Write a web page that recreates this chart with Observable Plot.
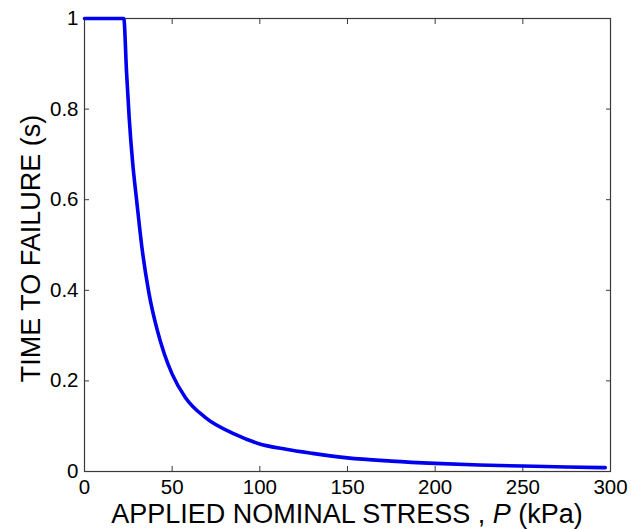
<!DOCTYPE html>
<html><head><meta charset="utf-8">
<script src="https://cdn.jsdelivr.net/npm/d3@7"></script>
<script src="https://cdn.jsdelivr.net/npm/@observablehq/plot@0.6"></script>
<style>html,body{margin:0;padding:0;background:#fff} svg{display:block}</style>
</head><body><div id="chart"></div>
<script>
// Values
const stress = [0, 22.4, 24, 25.5, 27.5, 29.7, 32.9, 36.7, 41.5, 45.5, 50, 57.6, 69, 86, 99, 115, 130, 150, 175, 200, 225, 250, 275, 297];
const timeToFailure = [1, 1, 0.88, 0.78, 0.68, 0.60, 0.49, 0.395, 0.312, 0.26, 0.215, 0.163, 0.119, 0.082, 0.062, 0.049, 0.040, 0.030, 0.023, 0.018, 0.0145, 0.012, 0.010, 0.0085];
const xTicks = [0, 50, 100, 150, 200, 250, 300];
const yTicks = [0, 0.2, 0.4, 0.6, 0.8, 1];
const yTickLabels = ["0", "0.2", "0.4", "0.6", "0.8", "1"];
const xTitleParts = ["APPLIED NOMINAL STRESS , ", "P", " (kPa)"];
const yTitle = "TIME TO FAILURE (s)";

const data = stress.map((p, i) => ({p, t: timeToFailure[i]}));
const axisColor = "#3a3a3a";
const font = "Arial, 'Liberation Sans', sans-serif";

const plot = Plot.plot({
  width: 631,
  height: 529,
  marginLeft: 84,
  marginRight: 21,
  marginTop: 18,
  marginBottom: 58,
  style: {fontFamily: font, fontSize: "20.5px", background: "#fff", color: "#000"},
  x: {domain: [0, 300]},
  y: {domain: [0, 1]},
  marks: [
    Plot.frame({stroke: axisColor, strokeWidth: 1.2}),
    // inward ticks on all four sides
    Plot.axisX({anchor: "bottom", ticks: xTicks, tickSize: 5, dy: -5, fill: "none", stroke: axisColor, label: null}),
    Plot.axisX({anchor: "top", ticks: xTicks, tickSize: 5, dy: 5, fill: "none", stroke: axisColor, label: null}),
    Plot.axisY({anchor: "left", ticks: yTicks, tickSize: 5, dx: 5, fill: "none", stroke: axisColor, label: null}),
    Plot.axisY({anchor: "right", ticks: yTicks, tickSize: 5, dx: -5, fill: "none", stroke: axisColor, label: null}),
    // tick labels
    Plot.axisX({anchor: "bottom", ticks: xTicks, tickSize: 0, tickPadding: 8, tickFormat: d => String(d), fill: "#000", fontSize: 20.5, label: null}),
    Plot.axisY({anchor: "left", ticks: yTicks, tickSize: 0, tickPadding: 6, tickFormat: d => yTickLabels[yTicks.indexOf(d)], fill: "#000", fontSize: 20.5, label: null}),
    Plot.line(data, {x: "p", y: "t", stroke: "#0000ee", strokeWidth: 3.6, curve: "monotone-x"})
  ]
});

document.getElementById("chart").appendChild(plot);

const svg = d3.select(plot);
svg.selectAll("text").attr("font-size", 20.5).style("font-size", "20.5px").style("font-family", font);

const xs = plot.scale("x"), ys = plot.scale("y");
const xt = svg.append("text")
  .attr("x", xs.apply(150)).attr("y", 523)
  .attr("text-anchor", "middle")
  .style("font-family", font).style("font-size", "27px").attr("fill", "#000");
xTitleParts.forEach((s, i) => {
  const ts = xt.append("tspan").text(s);
  if (i === 1) ts.style("font-style", "italic");
});
svg.append("text")
  .attr("transform", `translate(40,${ys.apply(0.5) + 4}) rotate(-90)`)
  .attr("text-anchor", "middle")
  .style("font-family", font).style("font-size", "27px").attr("fill", "#000")
  .text(yTitle);
</script>
</body></html>
